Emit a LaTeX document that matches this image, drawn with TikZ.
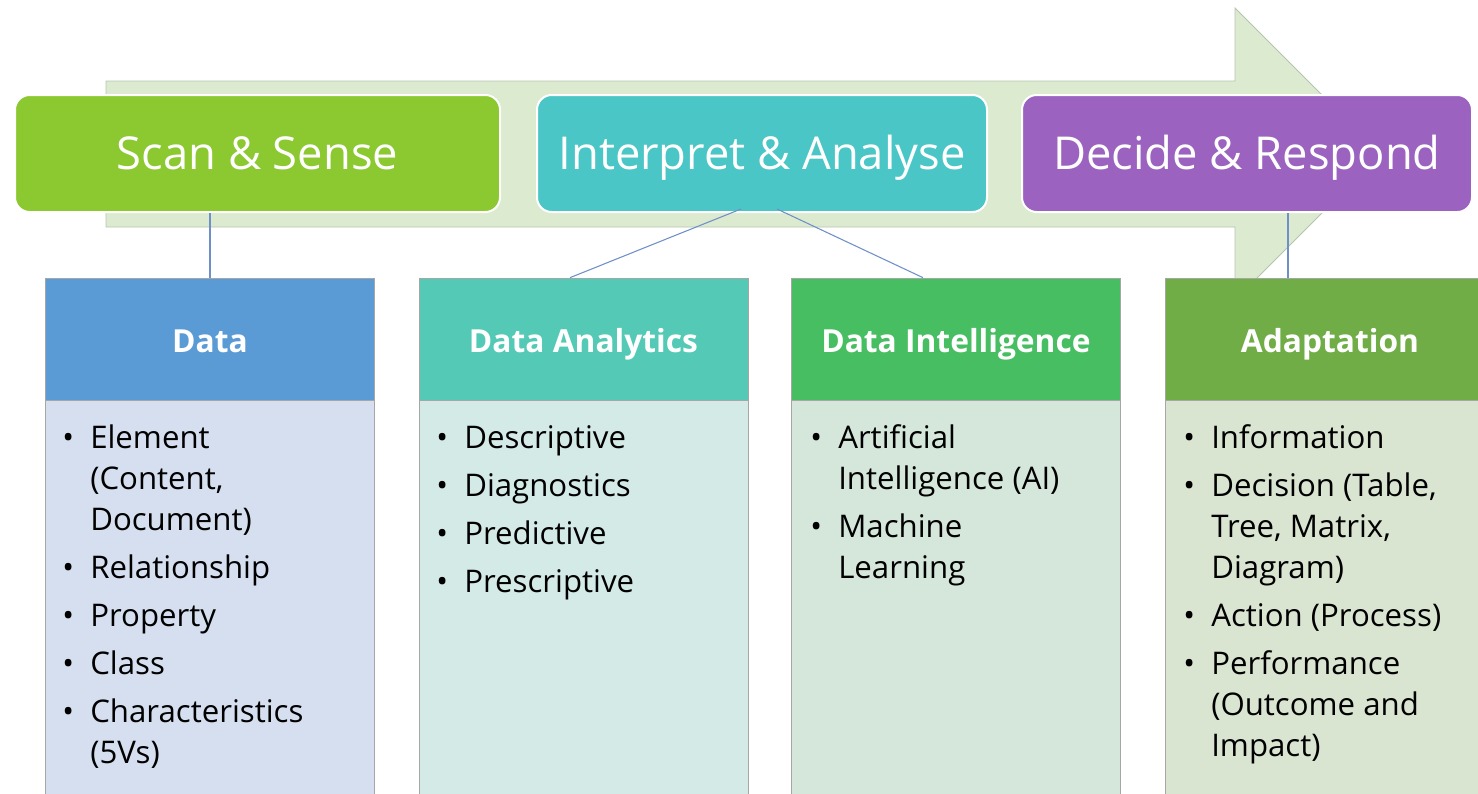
\documentclass[tikz,border=0pt]{standalone}
\usepackage{fontspec}
\setmainfont{Open Sans}
\usetikzlibrary{calc}

\definecolor{arrowfill}{HTML}{DCEBD0}
\definecolor{arrowline}{HTML}{B5C4AE}
\definecolor{scangreen}{HTML}{8CC930}
\definecolor{interpteal}{HTML}{4BC6C6}
\definecolor{decidepurple}{HTML}{9B63BF}
\definecolor{datahead}{HTML}{5B9BD5}
\definecolor{databody}{HTML}{D5DFEF}
\definecolor{analhead}{HTML}{54CAB6}
\definecolor{analbody}{HTML}{D4EAE7}
\definecolor{intelhead}{HTML}{48BE62}
\definecolor{intelbody}{HTML}{D4E7DA}
\definecolor{adapthead}{HTML}{70AD47}
\definecolor{adaptbody}{HTML}{D9E4D1}
\definecolor{linkblue}{HTML}{6F8FC8}
\definecolor{boxline}{HTML}{A6A6A6}

\tikzset{
  stage/.style={rounded corners=11pt, draw=white, line width=1.5pt, text=white,
    inner sep=0pt, minimum height=87.75pt, text height=24.3pt, text depth=0pt,
    font=\fontsize{34}{40}\selectfont},
  head/.style={draw=boxline, line width=0.5pt, text=white, inner sep=0pt,
    minimum width=247pt, minimum height=91.5pt, text height=19.5pt, text depth=0pt,
    font=\fontsize{23.8}{28}\selectfont\bfseries},
  body/.style={draw=boxline, line width=0.5pt, inner sep=0pt,
    minimum width=247pt, minimum height=300pt},
  items/.style={anchor=base west, inner sep=0pt, text=black,
    font=\fontsize{23.4}{30.75}\selectfont},
  link/.style={draw=linkblue, line width=0.8pt}
}
\newcommand{\bul}{\textbullet}

\begin{document}
\begin{tikzpicture}[x=0.75pt, y=-0.75pt]
		%%%%% START %%%%%
		\useasboundingbox (0, 0) rectangle (1478, 793);
		\clip (0, 0) rectangle (1478, 793);
		
		% big arrow behind the stages
		\draw[fill=arrowfill, draw=arrowline, line width=0.6pt] (106, 81) -- (1235, 81) -- (1235, 8) -- (1381, 154) -- (1235, 300) -- (1235, 227) -- (106, 227) -- cycle;
		
		% stages
		\node[stage, fill=scangreen, minimum width=363.75pt] (scan) at (257.5, 153.5) {Scan \& Sense};
		\node[stage, fill=interpteal, minimum width=337.5pt] (interp) at (762, 153.5) {Interpret \& Analyse};
		\node[stage, fill=decidepurple, minimum width=337.5pt] (decide) at (1247, 153.5) {Decide \& Respond};
		
		% columns
		\node[body, fill=databody, anchor=north] (bdata) at (210, 400) {};
		\node[head, fill=datahead] (hdata) at (210, 339) {Data};
		
		\node[body, fill=analbody, anchor=north] (banal) at (583.5, 400) {};
		\node[head, fill=analhead] (hanal) at (583.5, 339) {Data Analytics};
		
		\node[body, fill=intelbody, anchor=north] (bintel) at (956, 400) {};
		\node[head, fill=intelhead] (hintel) at (956, 339) {Data Intelligence};
		
		\node[body, fill=adaptbody, anchor=north] (badapt) at (1330, 400) {};
		\node[head, fill=adapthead] (hadapt) at (1330, 339) {Adaptation};
		
		% connectors
		\coordinate (adaptfoot) at ($(hadapt.north)+(-42, 0)$);
		\draw[link] (hdata.north) -- (hdata.north |- scan.south);
		\draw[link] ($(interp.south)+(-21, -4)$) -- ($(hanal.north)+(-13.5, 0)$);
		\draw[link] ($(interp.south)+(15, -4)$) -- ($(hintel.north)+(-33, 0)$);
		\draw[link] (adaptfoot) -- (adaptfoot |- decide.south);
		
		% bullet lists
		\node[items] (ldata) at (62, 448) {\begin{tabular}[t]{@{}p{21pt}@{}l@{}}
			\bul & Element\\ & (Content,\\ & Document)\\[5.25pt]
			\bul & Relationship\\[5.25pt]
			\bul & Property\\[5.25pt]
			\bul & Class\\[5.25pt]
			\bul & Characteristics\\ & (5Vs)
		\end{tabular}};
		
		\node[items] (lanal) at (436, 448) {\begin{tabular}[t]{@{}p{21pt}@{}l@{}}
			\bul & Descriptive\\[5.25pt]
			\bul & Diagnostics\\[5.25pt]
			\bul & Predictive\\[5.25pt]
			\bul & Prescriptive
		\end{tabular}};
		
		\node[items] (lintel) at (810, 448) {\begin{tabular}[t]{@{}p{21pt}@{}l@{}}
			\bul & Artificial\\ & Intelligence (AI)\\[5.25pt]
			\bul & Machine\\ & Learning
		\end{tabular}};
		
		\node[items] (ladapt) at (1183, 448) {\begin{tabular}[t]{@{}p{21pt}@{}l@{}}
			\bul & Information\\[5.25pt]
			\bul & Decision (Table,\\ & Tree, Matrix,\\ & Diagram)\\[5.25pt]
			\bul & Action (Process)\\[5.25pt]
			\bul & Performance\\ & (Outcome and\\ & Impact)
		\end{tabular}};
		
		%%%%% END %%%%%
\end{tikzpicture}
\end{document}
